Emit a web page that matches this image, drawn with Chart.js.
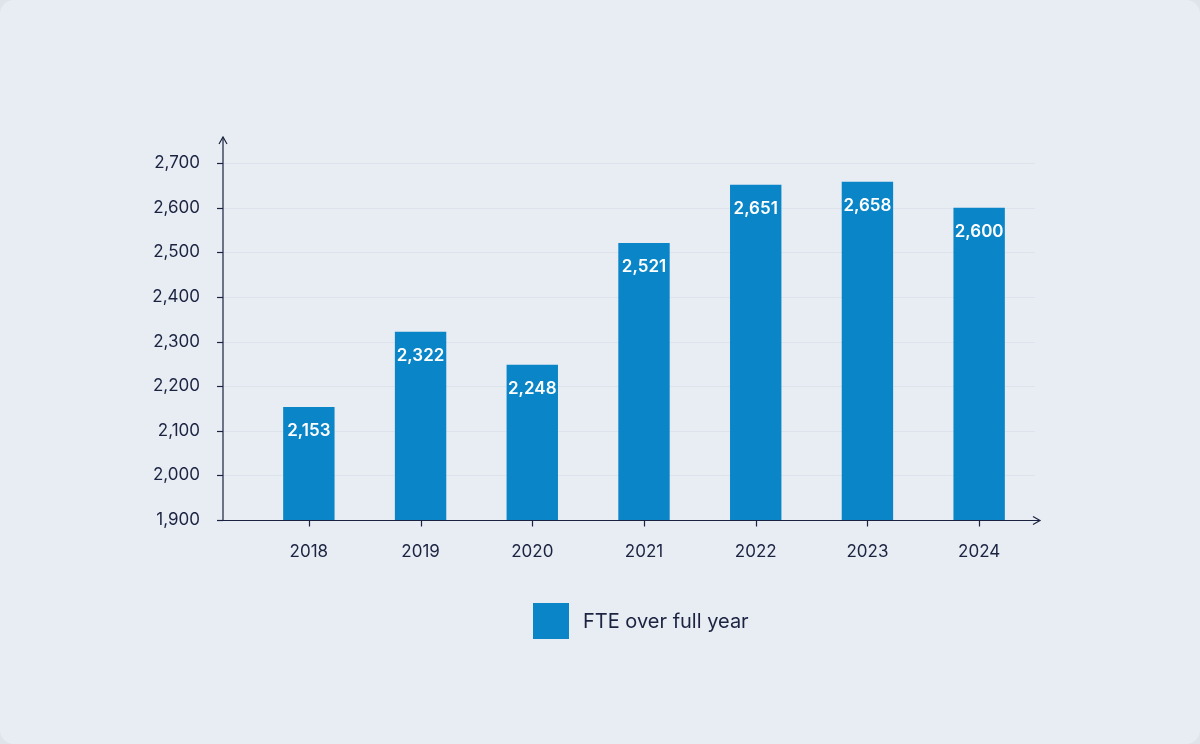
<!DOCTYPE html>
<html><head><meta charset="utf-8">
<script src="https://cdn.jsdelivr.net/npm/chart.js@4"></script>
<style>
html,body{margin:0;padding:0;background:#dfe4eb;}
#card{width:1200px;height:744px;background:#e8ecf3;border-radius:14px;position:relative;}
canvas{display:block;}
</style></head><body>
<div id="card"><canvas id="c" width="1200" height="744"></canvas></div>
<script>
var years = ['2018', '2019', '2020', '2021', '2022', '2023', '2024'];
var fte = [2153, 2322, 2248, 2521, 2651, 2658, 2600];
var seriesName = 'FTE over full year';
var yMin = 1900, yMax = 2700, yStep = 100;

var ink = '#1b2340';
var barColor = '#0a85c7';

var axesPlugin = {
    id: 'axes',
    beforeDatasetsDraw: function (chart) {
        var c = chart.ctx, a = chart.chartArea, y = chart.scales.y;
        var x0 = a.left - 30, xr = a.right + 5;
        c.save();
        // grid
        c.strokeStyle = '#dde3ec';
        c.lineWidth = 1;
        for (var v = yMin + yStep; v <= yMax; v += yStep) {
            var py = Math.round(y.getPixelForValue(v)) + 0.5;
            c.beginPath(); c.moveTo(x0, py); c.lineTo(a.right, py); c.stroke();
        }
        c.restore();
    },
    afterDatasetsDraw: function (chart) {
        var c = chart.ctx, a = chart.chartArea, y = chart.scales.y, x = chart.scales.x;
        var x0 = a.left - 30, xr = a.right + 5, yb = a.bottom + 0.5;
        c.save();
        c.strokeStyle = ink;
        c.lineWidth = 1.2;
        c.beginPath();
        c.moveTo(x0, a.top - 26); c.lineTo(x0, yb); c.lineTo(xr, yb);
        c.stroke();
        // arrows
        c.beginPath();
        c.moveTo(x0 - 4, a.top - 19); c.lineTo(x0, a.top - 26); c.lineTo(x0 + 4, a.top - 19);
        c.moveTo(xr - 7, yb - 4); c.lineTo(xr, yb); c.lineTo(xr - 7, yb + 4);
        c.stroke();
        // y ticks
        for (var v = yMin; v <= yMax; v += yStep) {
            var py = Math.round(y.getPixelForValue(v)) + 0.5;
            c.beginPath(); c.moveTo(x0 - 6, py); c.lineTo(x0, py); c.stroke();
        }
        // x ticks
        years.forEach(function (lab, i) {
            var px = Math.round(x.getPixelForValue(i)) + 0.5;
            c.beginPath(); c.moveTo(px, yb); c.lineTo(px, yb + 6); c.stroke();
        });
        // value labels
        c.fillStyle = '#ffffff';
        c.font = '600 17px Inter';
        c.textAlign = 'center';
        c.textBaseline = 'middle';
        chart.getDatasetMeta(0).data.forEach(function (bar, i) {
            c.fillText(fte[i].toLocaleString('en-US'), bar.x, bar.y + 24);
        });
        // legend
        var lx = 533, ly = 603;
        c.fillStyle = barColor;
        c.fillRect(lx, ly, 36, 36);
        c.fillStyle = ink;
        c.font = '20px Inter';
        c.textAlign = 'left';
        c.fillText(seriesName, lx + 50, ly + 19);
        c.restore();
    }
};

new Chart(document.getElementById('c'), {
    type: 'bar',
    data: {
        labels: years,
        datasets: [{
            label: seriesName,
            data: fte,
            backgroundColor: barColor,
            barPercentage: 0.92,
            categoryPercentage: 0.5
        }]
    },
    options: {
        responsive: false,
        animation: false,
        layout: { padding: { top: 163, right: 165, left: 0, bottom: 0 } },
        plugins: { legend: { display: false }, tooltip: { enabled: false } },
        scales: {
            x: {
                afterFit: function (s) { s.height = 224; },
                grid: { display: false, drawTicks: false },
                border: { display: false },
                ticks: { color: ink, font: { family: 'Inter', size: 17 }, padding: 22 }
            },
            y: {
                min: yMin, max: yMax,
                afterFit: function (s) { s.width = 253; },
                grid: { display: false, drawTicks: false },
                border: { display: false },
                ticks: {
                    stepSize: yStep, color: ink, padding: 53,
                    font: { family: 'Inter', size: 17 },
                    callback: function (v) { return v.toLocaleString('en-US'); }
                }
            }
        }
    },
    plugins: [axesPlugin]
});
</script>
</body></html>
